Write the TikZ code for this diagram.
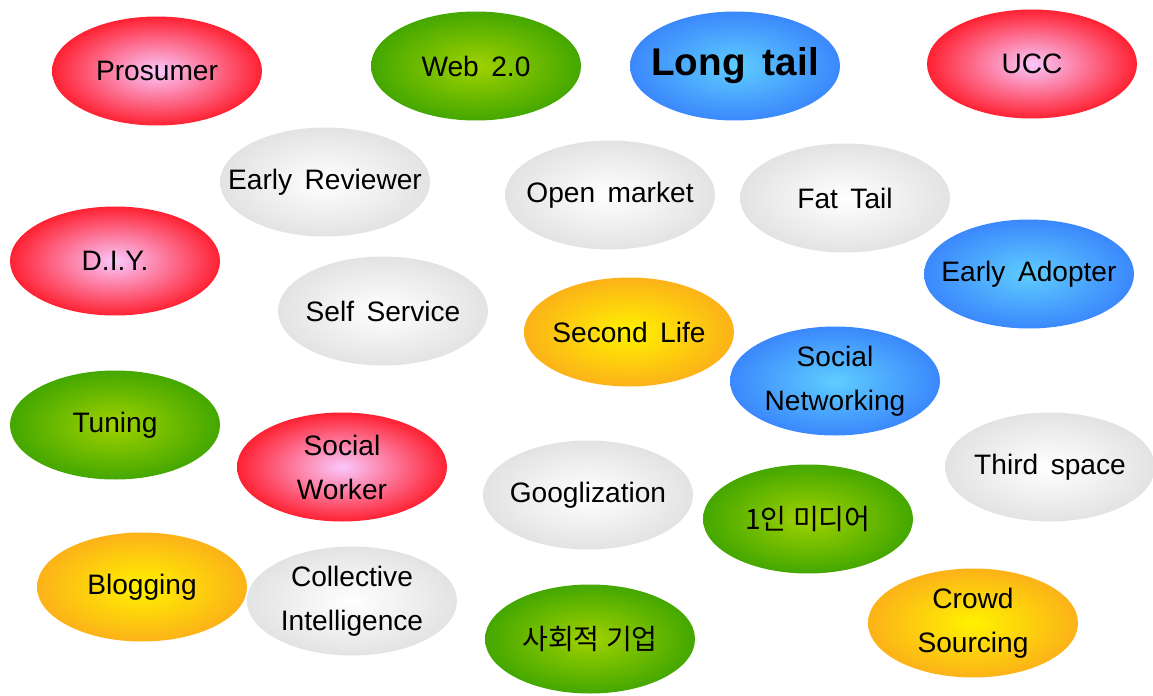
\documentclass[tikz,border=0pt]{standalone}
\usepackage{fontspec}
\setmainfont{Liberation Sans}[WordSpace=1.6]
\newfontfamily\kr{Noto Sans CJK KR}
\usetikzlibrary{shapes.geometric}

% bubble colours: centre and rim
\definecolor{redin}{RGB}{250,200,252}
\definecolor{redout}{RGB}{255,0,10}
\definecolor{grnin}{RGB}{160,210,0}
\definecolor{grnout}{RGB}{20,145,0}
\definecolor{bluin}{RGB}{95,205,255}
\definecolor{bluout}{RGB}{40,100,250}
\definecolor{orgin}{RGB}{255,242,0}
\definecolor{orgout}{RGB}{250,150,35}
\definecolor{gryin}{RGB}{255,255,255}
\definecolor{gryout}{RGB}{210,210,210}

\pgfdeclareradialshading{redglow}{\pgfpointorigin}{color(0bp)=(redin); color(30bp)=(redout); color(60bp)=(redout)}
\pgfdeclareradialshading{grnglow}{\pgfpointorigin}{color(0bp)=(grnin); color(38bp)=(grnout); color(60bp)=(grnout)}
\pgfdeclareradialshading{bluglow}{\pgfpointorigin}{color(0bp)=(bluin); color(38bp)=(bluout); color(60bp)=(bluout)}
\pgfdeclareradialshading{orgglow}{\pgfpointorigin}{color(0bp)=(orgin); color(36bp)=(orgout); color(60bp)=(orgout)}
\pgfdeclareradialshading{gryglow}{\pgfpointorigin}{color(0bp)=(gryin); color(40bp)=(gryout); color(60bp)=(gryout)}

\begin{document}
\begin{tikzpicture}

\tikzset{bubble/.style = {ellipse, minimum width=4.2cm, minimum height=2.18cm, inner sep=0pt}}
\tikzset{redb/.style = {bubble, shading=redglow}}
\tikzset{grnb/.style = {bubble, shading=grnglow}}
\tikzset{blub/.style = {bubble, shading=bluglow}}
\tikzset{orgb/.style = {bubble, shading=orgglow}}
\tikzset{gryb/.style = {bubble, shading=gryglow}}
\tikzset{every label/.style = {align=center, font=\fontsize{16}{25}\selectfont}}
%\draw[help lines] (0,0) grid (23,14);
\useasboundingbox (0,0) rectangle (23.06,13.9);

% top row
\node[redb, label=center:Prosumer] (prosumer) at (3.14,12.48) {};
\node[grnb, label=center:Web 2.0] (web) at (9.52,12.58) {};
\node[blub, label={center:{\fontsize{22}{26}\selectfont\bfseries Long tail}}] (longtail) at (14.70,12.58) {};
\node[redb, label=center:UCC] (ucc) at (20.64,12.62) {};

\node[gryb, label=center:Early Reviewer] (reviewer) at (6.50,10.26) {};
\node[gryb, label=center:Open market] (market) at (12.20,10.00) {};
\node[gryb, label=center:Fat Tail] (fattail) at (16.90,9.94) {};

\node[redb, label=center:D.I.Y.] (diy) at (2.30,8.68) {};
\node[blub, label=center:Early Adopter] (adopter) at (20.58,8.42) {};

\node[gryb, label=center:Self Service] (selfserv) at (7.66,7.68) {};
\node[orgb, label=center:Second Life] (secondlife) at (12.58,7.26) {};
\node[blub, label=center:Social\\Networking] (networking) at (16.70,6.28) {};

\node[grnb, label=center:Tuning] (tuning) at (2.30,5.40) {};
\node[redb, label=center:Social\\Worker] (worker) at (6.84,4.56) {};
\node[gryb, label=center:Third space] (thirdspace) at (21.00,4.56) {};

\node[gryb, label=center:Googlization] (google) at (11.76,4.00) {};
\node[grnb, label=center:{\kr 1인 미디어}] (media) at (16.16,3.52) {};

% bottom row
\node[orgb, label=center:Blogging] (blogging) at (2.84,2.16) {};
\node[gryb, label=center:Collective\\Intelligence] (collective) at (7.04,1.88) {};
\node[grnb, label=center:{\kr 사회적 기업}] (enterprise) at (11.80,1.12) {};
\node[orgb, label=center:Crowd\\Sourcing] (crowd) at (19.46,1.44) {};
\end{tikzpicture}
\end{document}
